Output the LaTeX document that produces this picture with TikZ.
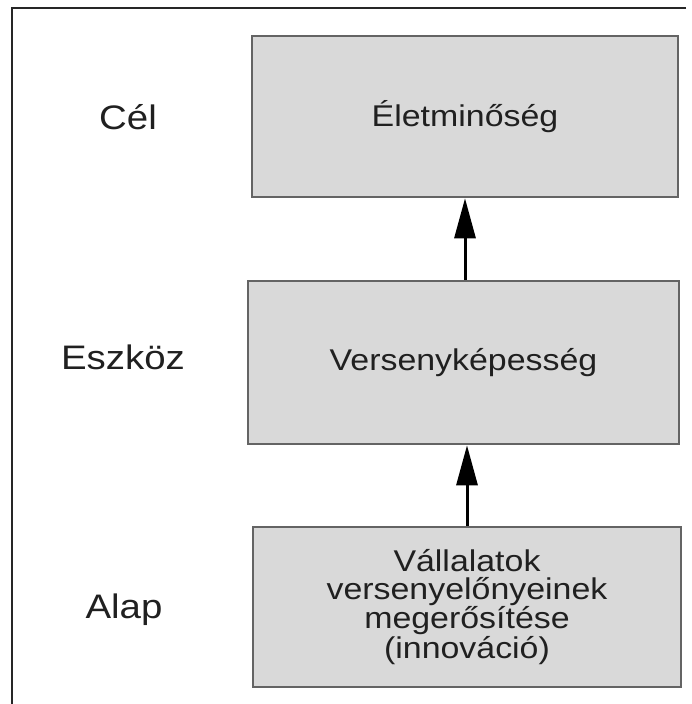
\documentclass[tikz,border=0pt]{standalone}
\usepackage{fontspec}
\setmainfont[FakeStretch=1.13]{Liberation Sans}
\usetikzlibrary{arrows.meta}
\definecolor{boxfill}{HTML}{D9D9D9}
\definecolor{boxline}{HTML}{646464}
\definecolor{txt}{HTML}{202020}
\begin{document}
\begin{tikzpicture}[x=1pt,y=-1pt,
  levelbox/.style={draw=boxline,fill=boxfill,line width=2.6pt,inner sep=0pt,
    text=txt,font=\fontsize{30}{27.5}\selectfont,align=center},
  levellabel/.style={text=txt,font=\fontsize{34}{38}\selectfont,anchor=base,inner sep=0pt},
  uparrow/.style={line width=3pt,-{Triangle[length=40pt,width=21pt]}}]
\useasboundingbox (0,0) rectangle (691,704);
\draw[line width=1.5pt,color=black!85] (686,8) -- (12,8) -- (12,704);
\node[levelbox,minimum width=426pt,minimum height=161pt] (b1) at (465,116.5) {Életminőség};
\node[levelbox,minimum width=431pt,minimum height=163pt] (b2) at (463.5,362.5) {Versenyképesség};
\node[levelbox,minimum width=428pt,minimum height=160pt] (b3) at (467,607) {Vállalatok\\versenyelőnyeinek\\megerősítése\\(innováció)};
\node[levellabel] (l1) at (128,129) {Cél};
\node[levellabel] (l2) at (123,369) {Eszköz};
\node[levellabel] (l3) at (124,618) {Alap};
\draw[uparrow] (b1.south |- b2.north) -- (b1.south);
\draw[uparrow] (b3.north) -- (b3.north |- b2.south);
\end{tikzpicture}
\end{document}
